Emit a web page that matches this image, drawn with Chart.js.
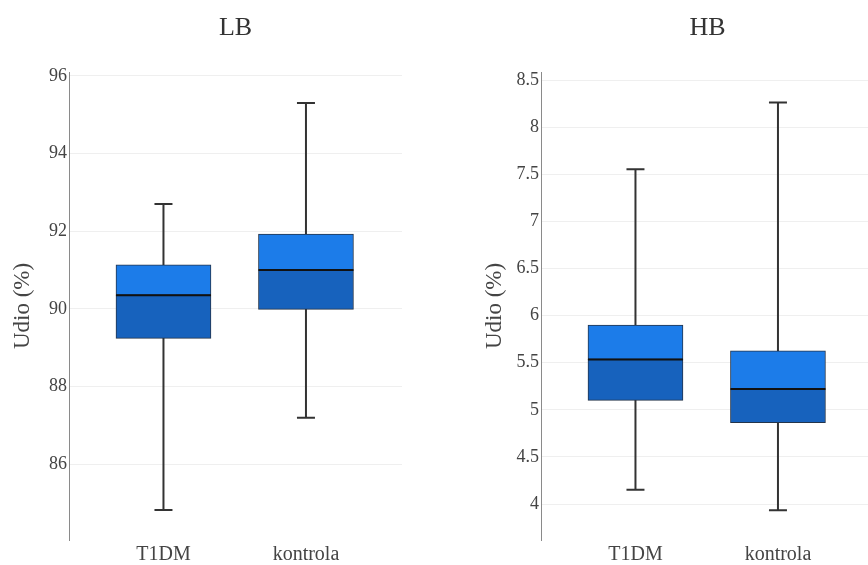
<!DOCTYPE html>
<html>
<head>
<meta charset="utf-8">
<title>LB / HB</title>
<script src="https://cdn.jsdelivr.net/npm/chart.js@4.4.1/dist/chart.umd.min.js"></script>
<style>
  html, body { margin: 0; padding: 0; background: #fff; overflow: hidden; }
  #wrap { position: relative; width: 868px; height: 565px; overflow: hidden; }
  canvas { position: absolute; top: 0; }
</style>
</head>
<body>
<div id="wrap">
  <canvas id="lb" width="472" height="565" style="left:0px;"></canvas>
  <canvas id="hb" width="472" height="565" style="left:472px;"></canvas>
</div>
<script>
// Box plot data
var categories = ['T1DM', 'kontrola'];

var lbMin = [84.82, 87.2];
var lbQ1  = [89.24, 89.99];
var lbMed = [90.355, 91.0];
var lbQ3  = [91.135, 91.925];
var lbMax = [92.7, 95.305];
var lbTicks = [86, 88, 90, 92, 94, 96];

var hbMin = [4.15, 3.935];
var hbQ1  = [5.10, 4.862];
var hbMed = [5.535, 5.22];
var hbQ3  = [5.90, 5.627];
var hbMax = [7.552, 8.26];
var hbTicks = [4, 4.5, 5, 5.5, 6, 6.5, 7, 7.5, 8, 8.5];

var SERIF = '"Liberation Serif", "DejaVu Serif", serif';
var LIGHT = '#1c7ce9';
var DARK = '#1762bd';

function segs(lo, hi) {
  return lo.map(function(v, i) { return { x: i, y: [v, hi[i]] }; });
}

// whiskers go under the boxes, median line on top
var boxPlugin = {
  id: 'boxparts',
  beforeDatasetsDraw: function(chart) {
    var st = chart.options.plugins.boxparts;
    var xs = chart.scales.x, ys = chart.scales.y, ctx = chart.ctx;
    ctx.save();
    ctx.strokeStyle = '#333';
    ctx.lineWidth = 2;
    st.min.forEach(function(lo, i) {
      var cx = xs.getPixelForValue(i);
      var y0 = ys.getPixelForValue(lo), y1 = ys.getPixelForValue(st.max[i]);
      ctx.beginPath();
      ctx.moveTo(cx, y0); ctx.lineTo(cx, y1);
      ctx.moveTo(cx - 9, y0); ctx.lineTo(cx + 9, y0);
      ctx.moveTo(cx - 9, y1); ctx.lineTo(cx + 9, y1);
      ctx.stroke();
    });
    ctx.restore();
  },
  afterDatasetsDraw: function(chart) {
    var st = chart.options.plugins.boxparts;
    var xs = chart.scales.x, ys = chart.scales.y, ctx = chart.ctx;
    ctx.save();
    ctx.strokeStyle = '#111';
    ctx.lineWidth = 2;
    st.med.forEach(function(m, i) {
      var cx = xs.getPixelForValue(i), y = ys.getPixelForValue(m);
      ctx.beginPath();
      ctx.moveTo(cx - 47.5, y); ctx.lineTo(cx + 47.5, y);
      ctx.stroke();
    });
    ctx.restore();
  }
};

function makeBox(id, title, mins, q1, med, q3, maxs, ticks, yMin, yMax) {
  return new Chart(document.getElementById(id), {
    type: 'bar',
    data: {
      datasets: [
        { label: 'upper', data: segs(med, q3), backgroundColor: LIGHT, borderColor: '#24344a', borderWidth: 1,
          borderSkipped: false, barThickness: 95, grouped: false },
        { label: 'lower', data: segs(q1, med), backgroundColor: DARK, borderColor: '#24344a', borderWidth: 1,
          borderSkipped: false, barThickness: 95, grouped: false }
      ]
    },
    plugins: [boxPlugin],
    options: {
      responsive: false,
      animation: false,
      layout: { padding: { left: 0, right: 70, top: 0, bottom: 0 } },
      plugins: {
        legend: { display: false },
        tooltip: { enabled: false },
        title: {
          display: true, text: title, fullSize: false, color: '#333',
          font: { family: SERIF, size: 26, weight: 'normal', lineHeight: 1.2 },
          padding: { top: 13, bottom: 27.8 }
        },
        boxparts: { min: mins, med: med, max: maxs }
      },
      scales: {
        x: {
          type: 'linear', min: -0.663, max: 1.674, offset: false,
          grid: { display: false, drawTicks: false },
          border: { display: false },
          afterBuildTicks: function(s) { s.ticks = categories.map(function(c, i) { return { value: i }; }); },
          afterFit: function(s) { s.height = 25; },
          ticks: {
            padding: 3, color: '#444', maxRotation: 0, autoSkip: false,
            font: { family: SERIF, size: 20 },
            callback: function(v) { return categories[v]; }
          }
        },
        y: {
          min: yMin, max: yMax,
          grid: { color: '#efefef', lineWidth: 1, drawTicks: false },
          border: { display: true, color: '#8a8a8a', width: 1 },
          afterBuildTicks: function(s) { s.ticks = ticks.map(function(v) { return { value: v }; }); },
          afterFit: function(s) { s.width = 69; },
          ticks: {
            padding: 2, color: '#444',
            font: { family: SERIF, size: 18 },
            callback: function(v) { return String(v); }
          },
          title: {
            display: true, text: 'Udio (%)', color: '#444',
            font: { family: SERIF, size: 23, lineHeight: 1.2 },
            padding: { top: 9.2, bottom: 0 }
          }
        }
      }
    }
  });
}

makeBox('lb', 'LB', lbMin, lbQ1, lbMed, lbQ3, lbMax, lbTicks, 84.05, 96.1);
makeBox('hb', 'HB', hbMin, hbQ1, hbMed, hbQ3, hbMax, hbTicks, 3.618, 8.585);
</script>
</body>
</html>
